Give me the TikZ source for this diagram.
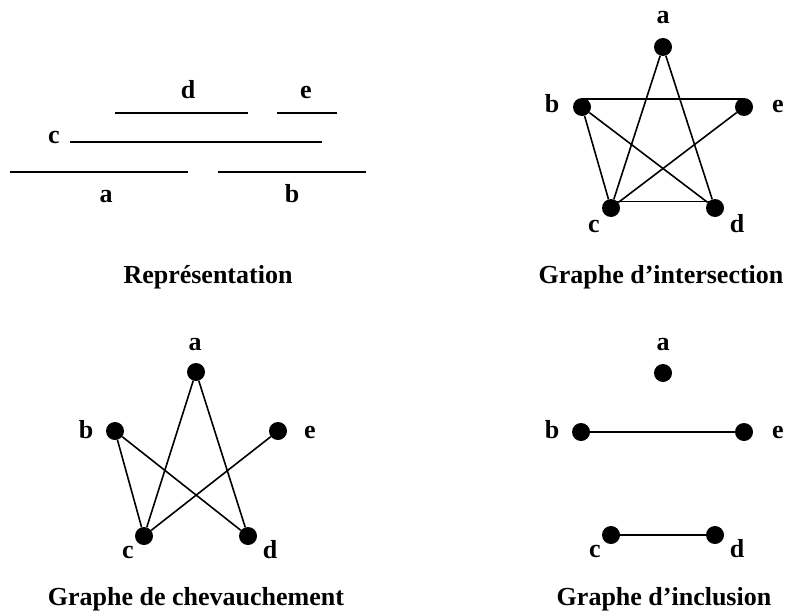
\documentclass[tikz,border=0pt]{standalone}
\usepackage{fontspec}
\setmainfont{Liberation Serif}
\usepackage{tikz}

\tikzset{
  vertex/.style={circle,fill=black,inner sep=0pt,minimum size=18pt},
  lbl/.style={font=\fontsize{26}{30}\selectfont\bfseries,anchor=base,inner sep=0pt},
  edge/.style={line width=1.6pt},
}

\begin{document}
\begin{tikzpicture}[x=1pt,y=-1pt]
        \useasboundingbox (0,0) rectangle (791,615);

        % Representation (intervals)
        \draw[edge] (10,172) -- (188,172) node[lbl] (ta) at (106,202) {a};
        \draw[edge] (218,172) -- (366,172) node[lbl] (tb) at (292,202) {b};
        \draw[edge] (70,142) -- (322,142) node[lbl] (tc) at (54,143) {c};
        \draw[edge] (115,113) -- (248,113) node[lbl] (td) at (188,99) {d};
        \draw[edge] (277,113) -- (337,113) node[lbl] (te) at (306,99) {e};
        \node[lbl] (trep) at (208,283) {Représentation};

        % Graphe d'intersection
        \node[vertex] (ia) at (663,47) {};
        \node[vertex] (ib) at (582,107) {};
        \node[vertex] (ie) at (744,107) {};
        \node[vertex] (ic) at (611,208) {};
        \node[vertex] (id) at (715,208) {};
        \node[lbl] (ila) at (663,24) {a};
        \node[lbl] (ilb) at (552,112) {b};
        \node[lbl] (ile) at (778,112) {e};
        \node[lbl] (ilc) at (594,232) {c};
        \node[lbl] (ild) at (737,232) {d};
        \draw[edge] (ia) -- (ic);
        \draw[edge] (ia) -- (id);
        \draw[edge] ([yshift=8pt]ib.center) -- ([yshift=8pt]ie.center);
        \draw[edge] (ib) -- (ic);
        \draw[edge] (ib) -- (id);
        \draw[edge] (ie) -- (ic);
        \draw[edge] ([yshift=6.5pt]ic.center) -- ([yshift=6.5pt]id.center);
        \node[lbl] (tint) at (661,283) {Graphe d’intersection};

        % Graphe de chevauchement
        \node[vertex] (oa) at (196,372) {};
        \node[vertex] (ob) at (115,431) {};
        \node[vertex] (oe) at (278,431) {};
        \node[vertex] (oc) at (144,536) {};
        \node[vertex] (od) at (248,536) {};
        \node[lbl] (ola) at (195,350) {a};
        \node[lbl] (olb) at (86,438) {b};
        \node[lbl] (ole) at (310,438) {e};
        \node[lbl] (olc) at (128,558) {c};
        \node[lbl] (old) at (270,558) {d};
        \draw[edge] (oa) -- (oc);
        \draw[edge] (oa) -- (od);
        \draw[edge] (ob) -- (oc);
        \draw[edge] (ob) -- (od);
        \draw[edge] (oe) -- (oc);
        \node[lbl] (tchev) at (196,605) {Graphe de chevauchement};

        % Graphe d'inclusion
        \node[vertex] (na) at (663,373) {};
        \node[vertex] (nb) at (581,432) {};
        \node[vertex] (ne) at (744,432) {};
        \node[vertex] (nc) at (611,535) {};
        \node[vertex] (nd) at (715,535) {};
        \node[lbl] (nla) at (663,350) {a};
        \node[lbl] (nlb) at (552,438) {b};
        \node[lbl] (nle) at (778,438) {e};
        \node[lbl] (nlc) at (595,557) {c};
        \node[lbl] (nld) at (737,557) {d};
        \draw[edge] (nb) -- (ne);
        \draw[edge] (nc) -- (nd);
        \node[lbl] (tinc) at (664,605) {Graphe d’inclusion};
\end{tikzpicture}
\end{document}
